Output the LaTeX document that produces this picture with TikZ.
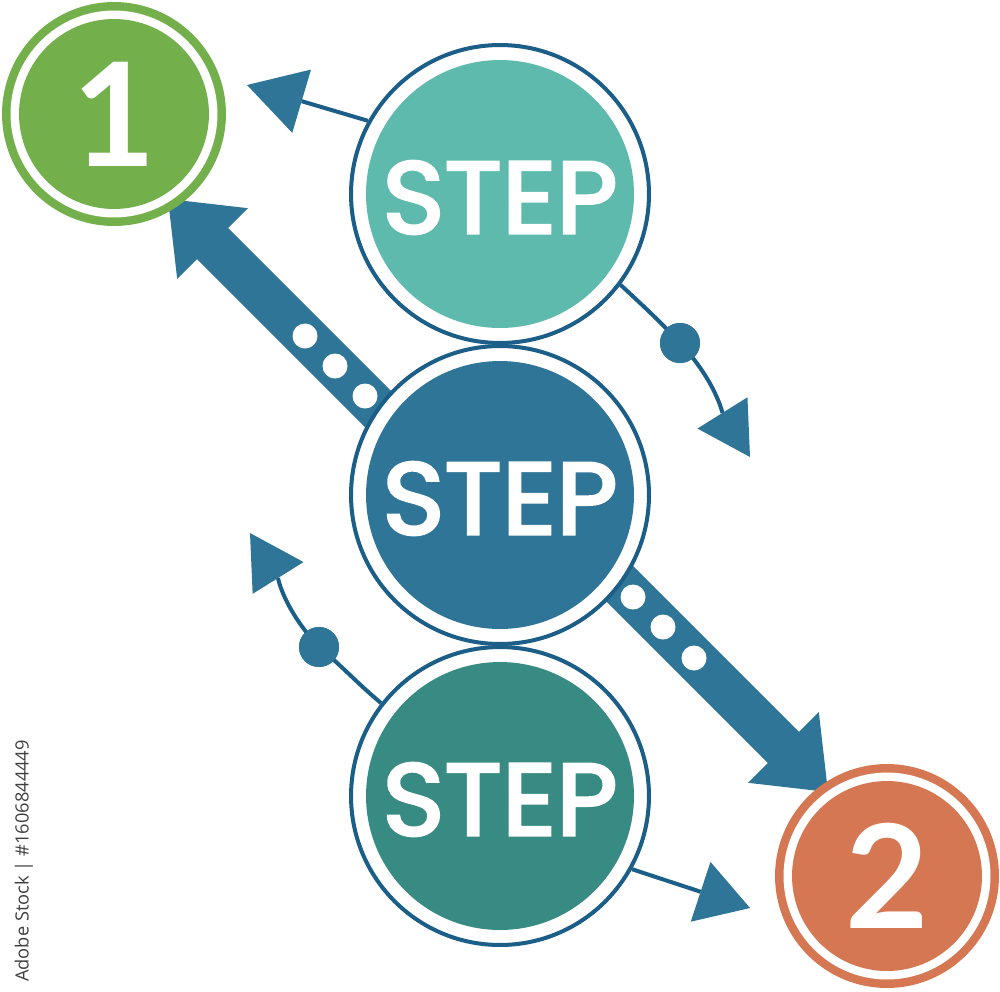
\documentclass[tikz,border=0pt]{standalone}
\usepackage{fontspec}
\newfontfamily\latofont{Lato}
\newfontfamily\popfont{Poppins}[FakeBold=3,FakeStretch=1.04]
\newfontfamily\sidefont{Open Sans}
\usetikzlibrary{arrows.meta,calc}
\definecolor{ringblue}{HTML}{1B5E87}
\definecolor{midblue}{HTML}{2E7597}
\definecolor{topteal}{HTML}{5DBAAD}
\definecolor{botteal}{HTML}{378B82}
\definecolor{onegreen}{HTML}{73B04B}
\definecolor{twoorange}{HTML}{D67753}
\definecolor{sidegray}{HTML}{404040}
\tikzset{
  stepring/.style={circle, draw=ringblue, line width=2.28pt, fill=white, minimum size=59.6mm, inner sep=0pt},
  stepcore/.style={circle, minimum size=53.6mm, inner sep=0pt},
  steptext/.style={text=white, inner sep=0pt, yshift=-0.7mm,
    font=\popfont\fontsize{58pt}{62pt}\selectfont},
  numouter/.style={circle, minimum size=44.8mm, inner sep=0pt},
  numwhite/.style={circle, fill=white, minimum size=41.4mm, inner sep=0pt},
  numcore/.style={circle, minimum size=38mm, inner sep=0pt},
  numtext/.style={text=white, inner sep=0pt,
    font=\latofont\bfseries\fontsize{82pt}{90pt}\selectfont},
  holedot/.style={circle, fill=white, minimum size=5mm, inner sep=0pt},
  pathdot/.style={circle, fill=midblue, minimum size=8mm, inner sep=0pt},
  thinarrow/.style={draw=ringblue, line width=2.28pt},
}
\newcommand\bigarrowshape[2]{%
  \fill[midblue] ($(#1)!4.4mm!90:(#2)$) -- ($($(#2)!12.6mm!(#1)$)!4.4mm!90:(#2)$)
    -- ($($(#2)!12.6mm!(#1)$)!10mm!90:(#2)$) -- (#2)
    -- ($($(#2)!12.6mm!(#1)$)!10mm!-90:(#2)$)
    -- ($($(#2)!12.6mm!(#1)$)!4.4mm!-90:(#2)$)
    -- ($(#1)!4.4mm!-90:(#2)$) -- cycle;}
\begin{document}
\begin{tikzpicture}[x=0.02cm,y=-0.02cm]
\useasboundingbox (0,0) rectangle (1000,991);
% big arrows (under circles)
\coordinate (tail1) at (430,461);
\coordinate (tip1) at (168,199);
\coordinate (tail2) at (560,524);
\coordinate (tip2) at (828,792);
\bigarrowshape{tail1}{tip1}
\bigarrowshape{tail2}{tip2}
\node[holedot] (h1) at (305,336) {};
\node[holedot] (h2) at (335,366) {};
\node[holedot] (h3) at (365,396) {};
\node[holedot] (h4) at (633,597) {};
\node[holedot] (h5) at (663,627) {};
\node[holedot] (h6) at (694,658) {};
% STEP circles
\node[stepring] (s1) at (500,194) {};
\node[stepcore, fill=topteal] (c1) at (s1) {};
\node[steptext] (t1) at (c1) {STEP};
\node[stepring] (s2) at (500,495) {};
\node[stepcore, fill=midblue] (c2) at (s2) {};
\node[steptext] (t2) at (c2) {STEP};
\node[stepring] (s3) at (500,796) {};
\node[stepcore, fill=botteal] (c3) at (s3) {};
\node[steptext] (t3) at (c3) {STEP};
% number circles
\node[numouter, fill=onegreen] (n1) at (114,114) {};
\node[numwhite] (w1) at (n1) {};
\node[numcore, fill=onegreen] (k1) at (n1) {};
\node[numtext] (d1) at (k1) {1};
\node[numouter, fill=twoorange] (n2) at (887,876) {};
\node[numwhite] (w2) at (n2) {};
\node[numcore, fill=twoorange] (k2) at (n2) {};
\node[numtext] (d2) at (k2) {2};
% small arrows
\coordinate (tipA) at (247,85);
\coordinate (tipB) at (750,457);
\coordinate (tipC) at (250,533);
\coordinate (tipD) at (750,908);
\node[pathdot] (dB) at (680,343) {};
\node[pathdot] (dC) at (319,647) {};
\draw[thinarrow, -{Triangle[length=11.4mm,width=13.2mm,line width=0pt,color=midblue]}] (s1.151) -- (tipA);
\draw[thinarrow, -{Triangle[length=10.4mm,width=11.8mm,line width=0pt,color=midblue]}] (s1.-37) to[out=-43,in=133] (dB.center) to[out=-47,in=122] (tipB);
\draw[thinarrow, -{Triangle[length=10.6mm,width=12mm,line width=0pt,color=midblue]}] (s3.142) to[out=140,in=-40] (dC.center) to[out=133,in=-58] (tipC);
\draw[thinarrow, -{Triangle[length=10.4mm,width=12.6mm,line width=0pt,color=midblue]}] (s3.-29) -- (tipD);
\node[pathdot] at (dB) {};
\node[pathdot] at (dC) {};
% side text
\node[rotate=90, text=sidegray, font=\sidefont\fontsize{10.4pt}{12pt}\selectfont] (side) at (24,861) {Adobe Stock | \#1606844449};
\end{tikzpicture}
\end{document}
